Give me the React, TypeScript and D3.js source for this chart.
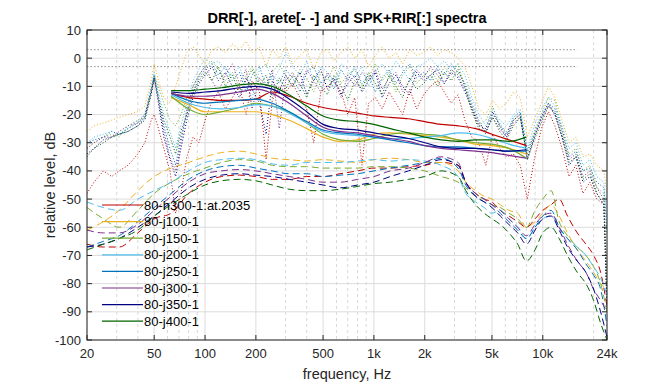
import React from "react";
import * as d3 from "d3";

// legend names and colours
const names = [
  "80-h300-1:at.2035",
  "80-j100-1",
  "80-j150-1",
  "80-j200-1",
  "80-j250-1",
  "80-j300-1",
  "80-j350-1",
  "80-j400-1",
];
const colors = ["#c00000", "#edb120", "#77ac30", "#4dbeee", "#0072bd", "#7e2f8e", "#000080", "#006400"];

// DRR (solid)
const fDrr = [63, 80, 100, 125, 160, 200, 250, 315, 400, 500, 630, 800, 1000, 1250, 1600, 2000, 2500, 3150, 4000, 5000, 6300, 8000];
const drrRed = [-12.5, -14, -14.5, -15, -15, -14.5, -12, -13.5, -16, -17.5, -18.5, -19.5, -20.5, -21, -21.5, -22.5, -23.5, -24, -25, -27, -29, -31];
const drrOrange = [-14, -16.5, -19, -19, -19, -19, -20, -22, -25, -28, -29.5, -29, -27, -26.5, -27, -27.5, -28, -29, -30.5, -31, -32, -34];
const drrLime = [-13.5, -18, -20, -19, -17.5, -16, -17, -19, -23, -27, -29, -29.5, -28.5, -27, -26.5, -27, -27.5, -29, -30, -30.5, -32, -35.5];
const drrLightBlue = [-13, -16, -17.5, -18, -17.5, -16.5, -17, -19.5, -23, -26, -27, -27.5, -28, -28.5, -28.5, -28, -27.5, -26.5, -27, -28.5, -30.5, -32];
const drrBlue = [-12.5, -15, -16, -15.5, -15, -14.5, -16, -19, -22.5, -25.5, -26.5, -27, -28, -29, -30, -31, -31.5, -31.5, -32, -32.5, -33, -33];
const drrPurple = [-12.5, -13.5, -13.5, -13, -12, -11, -12.5, -16, -20.5, -24.5, -26, -26.5, -27.5, -28.5, -29.5, -31, -32, -32.5, -33, -33.5, -34.5, -35.5];
const drrNavy = [-12, -12.5, -12, -11.5, -10.5, -10, -11, -14.5, -19, -23.5, -25, -25.5, -26.5, -27.5, -28.5, -30, -31.5, -32, -32, -32.5, -33, -32.5];
const drrGreen = [-11.5, -11.5, -11, -10.5, -9.5, -9, -10, -13, -17, -20.5, -22, -22.5, -23.5, -25, -26.5, -28, -29, -29.5, -29, -29, -29.5, -28];

// arete (dashed)
const fAr = [20, 25, 31, 40, 50, 63, 80, 100, 125, 160, 200, 250, 315, 400, 500, 630, 800, 1000, 1250, 1600, 2000, 2500, 3150, 3500, 4000, 4500, 5000, 5600, 6300, 7100, 8000, 9000, 10000, 11200, 12500, 14000, 16000, 18000, 20000, 22000, 24000];
const arRed = [-66, -67, -67, -62, -57, -55, -48, -44, -42, -41.5, -42, -43, -43, -42, -42, -41, -40, -39, -39, -38.5, -38, -37, -38, -44, -48, -50, -51, -54, -56, -58, -60, -57, -54, -52, -50, -56, -62, -66, -70, -76, -88];
const arOrange = [-61, -58, -54, -47, -42, -39, -37, -35, -33.5, -33, -34, -35.5, -36, -36.5, -36, -36.5, -37, -36, -35.5, -36, -37, -37, -40, -44, -47, -49, -50, -52, -54, -55, -60, -58, -55, -52, -56, -62, -68, -72, -76, -80, -82];
const arLime = [-53, -57, -60, -54, -48, -44, -41, -39, -37, -36, -36.5, -38, -38.5, -38.5, -39, -39, -39, -38.5, -38.5, -39, -40, -42, -44, -46, -49, -50, -52, -53, -55, -57, -60, -54, -50, -47, -58, -63, -67, -70, -74, -80, -90];
const arLightBlue = [-51, -53, -54, -50, -47, -44, -40, -37, -36, -35.5, -36, -37.5, -38, -37, -37, -37, -36.5, -36, -36.5, -36, -36.5, -38, -42, -48, -51, -53, -55, -54, -57, -60, -64, -60, -57, -56, -60, -64, -67, -70, -74, -78, -84];
const arBlue = [-67, -65, -63, -58, -53, -48, -43, -40, -38.5, -38, -39, -40, -41, -41, -42, -41.5, -41, -40, -39, -38, -37, -35.5, -39, -45, -49, -51, -52, -55, -58, -61, -64, -60, -56, -54, -60, -64, -68, -73, -77, -82, -95];
const arPurple = [-61, -62, -62, -59, -54, -49, -44, -41, -40, -39.5, -40, -41, -42, -43, -44, -44, -43, -42, -40, -39, -37, -35, -37, -44, -48, -50, -52, -54, -57, -60, -63, -59, -56, -55, -60, -66, -72, -76, -82, -86, -90];
const arNavy = [-67, -66, -64, -60, -56, -51, -46, -43, -41.5, -41, -41.5, -42, -43, -44, -45, -46, -45, -44, -42, -40, -38, -36, -38, -44, -49, -51, -53, -56, -59, -62, -66, -61, -57, -56, -61, -67, -72, -76, -82, -90, -99];
const arGreen = [-68, -66, -64, -61, -56, -52, -48, -45, -43.5, -43, -43.5, -45, -46.5, -47, -47, -46.5, -45.5, -44.5, -44, -43, -42, -40, -42, -47, -52, -55, -57, -59, -62, -66, -72, -68, -62, -60, -64, -70, -76, -80, -86, -94, -100];

// SPK+RIR (dotted)
const fSpk = [20, 22, 25, 28, 31, 35, 40, 44, 48, 50, 53, 57, 62, 67, 72, 78, 85, 92, 100, 110, 120, 132, 145, 160, 175, 190, 210, 230, 250, 275, 300, 330, 365, 400, 440, 485, 530, 580, 640, 700, 770, 850, 930, 1020, 1120, 1230, 1350, 1480, 1630, 1790, 1970, 2160, 2380, 2610, 2870, 3150, 3460, 3800, 4180, 4600, 5050, 5550, 6100, 6700, 7350, 8100, 8900, 9800, 10800, 11800, 13000, 14300, 15700, 17300, 19000, 20900, 23000, 24000];
const spkRed = [-48, -44, -40, -42, -40, -38, -34, -30, -22, -20,
  -25, -32, -40, -55, -48, -35, -28, -30, -22, -15,
  -12, -18, -14, -10, -20, -8, -12, -36, -15, -10,
  -12, -9, -14, -18, -30, -12, -10, -8, -12, -20,
  -14, -38, -16, -14, -18, -12, -16, -20, -11, -18,
  -13, -10, -8, -12, -16, -13, -22, -28, -30, -38,
  -27, -32, -35, -34, -38, -50, -36, -25, -19, -24,
  -32, -42, -38, -48, -44, -50, -52, -80];
const spkOrange = [-26, -24, -23, -22, -21, -20, -19, -17, -8, -2,
  -8, -14, -16, -10, -4, 2, 4, 1, -2, 3,
  4, 2, 5, 3, 6, 2, 4, -3, 3, 0,
  4, -2, 1, 3, -4, 2, 3, -1, 2, 4,
  0, 3, -3, 1, 4, 0, 2, -2, 3, 1,
  2, 4, 1, 3, 2, 0, -3, -10, -18, -20,
  -15, -18, -16, -12, -14, -28, -22, -16, -10, -14,
  -22, -30, -28, -35, -34, -38, -40, -48];
const spkLime = [-32, -30, -28, -27, -28, -24, -22, -21, -12, -6,
  -10, -16, -22, -24, -20, -14, -10, -6, -3, -1,
  -4, -8, -5, -10, -6, -3, -8, -12, -5, -2,
  -6, -10, -4, -7, -12, -5, -8, -3, -9, -6,
  -4, -10, -7, -2, -8, -5, -12, -6, -3, -9,
  -6, -4, -8, -3, -6, -2, -10, -18, -24, -22,
  -17, -24, -26, -22, -20, -34, -26, -20, -14, -15,
  -26, -34, -32, -40, -38, -46, -48, -84];
const spkLightBlue = [-30, -28, -27, -26, -27, -25, -22, -20, -10, -5,
  -12, -20, -26, -32, -24, -16, -8, -4, 0, -2,
  -1, -4, -6, -3, -10, -14, -4, -2, -8, -4,
  2, -3, -6, -1, -8, -3, -5, -9, -2, -4,
  -7, -3, -10, -5, -2, -6, -1, -4, -8, -3,
  -2, 0, -3, -1, -4, -2, -6, -14, -20, -24,
  -18, -22, -24, -20, -18, -32, -24, -18, -14, -17,
  -24, -32, -30, -38, -36, -42, -44, -58];
const spkBlue = [-30, -29, -28, -26, -27, -25, -23, -21, -11, -6,
  -14, -24, -32, -38, -28, -20, -12, -7, -4, -2,
  -6, -3, -8, -5, -12, -6, -3, -10, -6, -9,
  -4, -7, -12, -5, -3, -9, -6, -11, -4, -8,
  -3, -9, -6, -12, -7, -4, -9, -5, -2, -7,
  -5, -8, -3, -6, -2, -5, -9, -16, -22, -27,
  -20, -23, -27, -21, -19, -33, -27, -21, -16, -18,
  -25, -35, -33, -40, -39, -44, -46, -62];
const spkPurple = [-32, -30, -28, -28, -26, -24, -23, -20, -12, -7,
  -15, -26, -35, -40, -30, -18, -10, -6, -3, -8,
  -12, -6, -2, -9, -4, -18, -7, -10, -4, -25,
  -8, -5, -10, -4, -8, -12, -5, -8, -14, -6,
  -10, -5, -8, -4, -11, -7, -5, -12, -8, -4,
  -7, -3, -6, -9, -4, -6, -11, -17, -23, -26,
  -21, -25, -28, -23, -21, -35, -28, -22, -17, -19,
  -27, -36, -34, -42, -40, -46, -50, -86];
const spkNavy = [-34, -32, -29, -28, -27, -26, -24, -22, -13, -7,
  -16, -28, -36, -42, -32, -22, -14, -9, -6, -3,
  -8, -5, -10, -14, -7, -11, -16, -27, -8, -12,
  -6, -10, -5, -13, -8, -4, -11, -7, -13, -9,
  -6, -12, -8, -5, -14, -9, -6, -10, -13, -5,
  -8, -6, -4, -9, -5, -7, -12, -18, -24, -25,
  -19, -24, -28, -22, -20, -36, -28, -21, -16, -20,
  -28, -38, -35, -44, -42, -48, -52, -90];
const spkGreen = [-35, -32, -30, -28, -27, -26, -24, -21, -12, -7,
  -14, -22, -28, -34, -26, -20, -12, -8, -5, -8,
  -3, -10, -6, -12, -8, -4, -10, -6, -14, -7,
  -11, -6, -9, -14, -6, -10, -13, -6, -10, -15,
  -8, -11, -5, -9, -13, -6, -10, -14, -7, -11,
  -9, -6, -10, -5, -8, -4, -10, -19, -25, -26,
  -21, -26, -29, -24, -21, -36, -29, -23, -17, -20,
  -28, -37, -35, -43, -41, -48, -52, -88];

const drrSeries = [drrRed, drrOrange, drrLime, drrLightBlue, drrBlue, drrPurple, drrNavy, drrGreen];
const arSeries = [arRed, arOrange, arLime, arLightBlue, arBlue, arPurple, arNavy, arGreen];
const spkSeries = [spkRed, spkOrange, spkLime, spkLightBlue, spkBlue, spkPurple, spkNavy, spkGreen];

// axis ticks
const xTicks = [20, 50, 100, 200, 500, 1000, 2000, 5000, 10000, 24000];
const xTickLabels = ["20", "50", "100", "200", "500", "1k", "2k", "5k", "10k", "24k"];
const xMinor = [30, 40, 60, 70, 80, 90, 300, 400, 600, 700, 800, 900, 3000, 4000, 6000, 7000, 8000, 9000, 20000];
const yTicks = [10, 0, -10, -20, -30, -40, -50, -60, -70, -80, -90, -100];
const refLevels = [3, -3];

const W = 672;
const H = 384;
const L = 87;
const R = 607;
const T = 30;
const B = 340;
const font = "Arial, 'Liberation Sans', Helvetica, sans-serif";
const axisColor = "#262626";

export default function App() {
  const x = d3.scaleLog().domain([20, 24000]).range([L, R]);
  const y = d3.scaleLinear().domain([-100, 10]).range([B, T]);

  const path = (fs: number[], vs: number[], curve: d3.CurveFactory) =>
    d3
      .line<number>()
      .x((_, i) => x(fs[i]))
      .y((v) => y(v))
      .curve(curve)(vs.slice(0, fs.length)) || "";

  return (
    <div style={{ position: "absolute", left: 0, top: 0 }}>
      <svg width={W} height={H} style={{ display: "block", background: "#fff" }} fontFamily={font}>
        <defs>
          <clipPath id="plot">
            <rect x={L} y={T} width={R - L} height={B - T} />
          </clipPath>
        </defs>
        <rect x={L} y={T} width={R - L} height={B - T} fill="#fff" />
        {/* grid */}
        {yTicks.map((t) => (
          <line key={"gy" + t} x1={L} x2={R} y1={y(t)} y2={y(t)} stroke="#dcdcdc" strokeWidth={1} />
        ))}
        {xMinor.map((t) => (
          <line key={"gm" + t} x1={x(t)} x2={x(t)} y1={T} y2={B} stroke="#d8d8d8" strokeWidth={1} strokeDasharray="3,3" />
        ))}
        {xTicks.map((t) => (
          <line key={"gx" + t} x1={x(t)} x2={x(t)} y1={T} y2={B} stroke="#dcdcdc" strokeWidth={1} />
        ))}
        <g clipPath="url(#plot)">
          {refLevels.map((v) => (
            <line key={"ref" + v} x1={x(20)} x2={x(16000)} y1={y(v)} y2={y(v)} stroke="#8c8c8c" strokeWidth={1} strokeDasharray="1.5,2" />
          ))}
          {spkSeries.map((s, i) => (
            <path key={"spk" + i} d={path(fSpk, s, d3.curveLinear)} fill="none" stroke={colors[i]} strokeWidth={1} strokeDasharray="1,2" />
          ))}
          {arSeries.map((s, i) => (
            <path key={"ar" + i} d={path(fAr, s, d3.curveMonotoneX)} fill="none" stroke={colors[i]} strokeWidth={1} strokeDasharray="7,4" />
          ))}
          {drrSeries.map((s, i) => (
            <path key={"drr" + i} d={path(fDrr, s, d3.curveMonotoneX)} fill="none" stroke={colors[i]} strokeWidth={1.2} />
          ))}
        </g>
        {/* box and ticks */}
        <rect x={L} y={T} width={R - L} height={B - T} fill="none" stroke={axisColor} strokeWidth={1} />
        {xTicks.map((t) => (
          <g key={"xt" + t}>
            <line x1={x(t)} x2={x(t)} y1={B} y2={B - 5} stroke={axisColor} />
            <line x1={x(t)} x2={x(t)} y1={T} y2={T + 5} stroke={axisColor} />
          </g>
        ))}
        {yTicks.map((t) => (
          <g key={"yt" + t}>
            <line x1={L} x2={L + 5} y1={y(t)} y2={y(t)} stroke={axisColor} />
            <line x1={R} x2={R - 5} y1={y(t)} y2={y(t)} stroke={axisColor} />
          </g>
        ))}
        {xTicks.map((t, i) => (
          <text key={"xl" + t} x={x(t)} y={B + 18} textAnchor="middle" fontSize={13} fill={axisColor}>
            {xTickLabels[i]}
          </text>
        ))}
        {yTicks.map((t) => (
          <text key={"yl" + t} x={L - 6} y={y(t) + 4.5} textAnchor="end" fontSize={13} fill={axisColor}>
            {t}
          </text>
        ))}
        <text x={(L + R) / 2} y={379} textAnchor="middle" fontSize={14.5} fill={axisColor}>
          frequency, Hz
        </text>
        <text transform={`translate(55,${(T + B) / 2}) rotate(-90)`} textAnchor="middle" fontSize={14.5} fill={axisColor}>
          relative level, dB
        </text>
        <text x={(L + R) / 2} y={23} textAnchor="middle" fontSize={14.5} fontWeight="bold" fill="#000">
          DRR[-], arete[- -] and SPK+RIR[:] spectra
        </text>
        {/* legend */}
        {names.map((n, i) => (
          <g key={"lg" + i} transform={`translate(0,${205 + i * 16.6})`}>
            <line x1={102} x2={143} y1={0} y2={0} stroke={colors[i]} strokeWidth={1.2} />
            <text x={144} y={4.5} fontSize={13} fill="#000">
              {n}
            </text>
          </g>
        ))}
      </svg>
    </div>
  );
}
